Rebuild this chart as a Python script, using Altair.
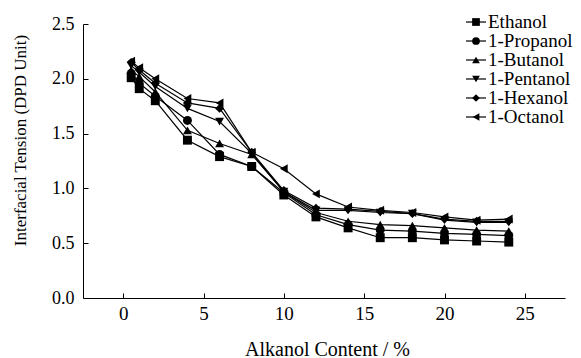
import altair as alt
import pandas as pd

# Alkanol content (%) at which interfacial tension was computed
content = [0.5, 1, 2, 4, 6, 8, 10, 12, 14, 16, 18, 20, 22, 24]

series_names = ["Ethanol", "1-Propanol", "1-Butanol", "1-Pentanol", "1-Hexanol", "1-Octanol"]

# Interfacial tension (DPD units) for each alkanol
ethanol = [2.01, 1.91, 1.80, 1.44, 1.29, 1.20, 0.94, 0.74, 0.64, 0.55, 0.55, 0.53, 0.52, 0.51]
propanol = [2.05, 1.96, 1.84, 1.62, 1.31, 1.20, 0.96, 0.76, 0.67, 0.62, 0.61, 0.59, 0.58, 0.57]
butanol = [2.08, 2.02, 1.88, 1.53, 1.41, 1.31, 0.97, 0.78, 0.70, 0.67, 0.66, 0.64, 0.62, 0.61]
pentanol = [2.12, 2.06, 1.93, 1.73, 1.61, 1.32, 0.97, 0.80, 0.80, 0.78, 0.77, 0.71, 0.69, 0.69]
hexanol = [2.15, 2.08, 1.96, 1.78, 1.73, 1.33, 0.98, 0.82, 0.81, 0.79, 0.77, 0.72, 0.70, 0.70]
octanol = [2.16, 2.10, 2.00, 1.82, 1.78, 1.33, 1.18, 0.95, 0.83, 0.80, 0.78, 0.74, 0.71, 0.72]

x_ticks = [0, 5, 10, 15, 20, 25]
y_ticks = [0.0, 0.5, 1.0, 1.5, 2.0, 2.5]

# Marker per series
marker_shapes = ["square", "circle", "triangle-up", "triangle-down", "diamond", "triangle-left"]

rows = []
for name, vals in zip(series_names, [ethanol, propanol, butanol, pentanol, hexanol, octanol]):
    for c, v in zip(content, vals):
        rows.append({"content": c, "tension": v, "alkanol": name})
df = pd.DataFrame(rows)
legend_df = pd.DataFrame({"alkanol": series_names})

FONT = "Liberation Serif, Times New Roman, serif"

x_scale = alt.Scale(domain=[-2.5, 27.5], nice=False, zero=False)
y_scale = alt.Scale(domain=[0, 2.5], nice=False, zero=True)
shape_scale = alt.Scale(domain=series_names, range=marker_shapes)

x_axis = alt.Axis(
    orient="bottom", values=x_ticks, ticks=False, grid=False,
    title="Alkanol Content / %", titleFont=FONT, titleFontSize=20, titleFontWeight="normal",
    titleColor="black", titleX=244, titleY=57, titleAlign="center", titleBaseline="alphabetic",
    labelFont=FONT, labelFontSize=19, labelColor="black", labelPadding=6,
    domainColor="black", domainWidth=1,
)
y_axis = alt.Axis(
    orient="left", values=y_ticks, format=".1f", ticks=False, grid=False,
    title="Interfacial Tension (DPD Unit)", titleFont=FONT, titleFontSize=17, titleFontWeight="normal",
    titleColor="black", titleX=-63, titleY=116, titleAngle=270, titleAlign="center", titleBaseline="middle",
    labelFont=FONT, labelFontSize=18, labelColor="black", labelPadding=9,
    domainColor="black", domainWidth=1,
)

# Inward-pointing tick marks drawn by a second pair of axes shifted into the plot
x_tick_axis = alt.Axis(orient="bottom", values=x_ticks, ticks=True, tickSize=5, offset=-5,
                       tickColor="black", tickWidth=1, labels=False, domain=False, grid=False, title=None)
y_tick_axis = alt.Axis(orient="left", values=y_ticks, ticks=True, tickSize=5, offset=-5,
                       tickColor="black", tickWidth=1, labels=False, domain=False, grid=False, title=None)

base = alt.Chart(df)

lines = base.mark_line(color="black", strokeWidth=1.2).encode(
    x=alt.X("content:Q", scale=x_scale, axis=x_axis),
    y=alt.Y("tension:Q", scale=y_scale, axis=y_axis),
    detail="alkanol:N",
)

points = base.mark_point(filled=True, color="black", opacity=1, size=80).encode(
    x=alt.X("content:Q", scale=x_scale, axis=None),
    y=alt.Y("tension:Q", scale=y_scale, axis=None),
    shape=alt.Shape("alkanol:N", scale=shape_scale, legend=None),
)

tick_layer = base.mark_point(opacity=0).encode(
    x=alt.X("content:Q", scale=x_scale, axis=x_tick_axis),
    y=alt.Y("tension:Q", scale=y_scale, axis=y_tick_axis),
)

plot = alt.layer(lines, points, tick_layer).resolve_axis(x="independent", y="independent")

# Legend in the upper right: one row per alkanol, line segment with its marker and label
leg_y = alt.Y("alkanol:N", scale=alt.Scale(type="point", domain=series_names, range=[-2, 93], padding=0), axis=None)
leg_base = alt.Chart(legend_df)

leg_lines = leg_base.mark_rule(color="black", strokeWidth=1.2).encode(
    x=alt.value(383), x2=alt.value(403), y=leg_y,
)
leg_marks = leg_base.mark_point(filled=True, color="black", opacity=1, size=60).encode(
    x=alt.value(393), y=leg_y,
    shape=alt.Shape("alkanol:N", scale=shape_scale, legend=None),
)
leg_text = leg_base.mark_text(align="left", baseline="middle", font=FONT, fontSize=19, color="black").encode(
    x=alt.value(405), y=leg_y, text="alkanol:N",
)
legend = alt.layer(leg_lines, leg_marks, leg_text)

chart = (
    alt.layer(plot, legend)
    .resolve_scale(y="independent")
    .properties(
        width=482, height=274,
        padding={"left": 83, "top": 24, "right": 16, "bottom": 60},
        autosize=alt.AutoSizeParams(type="none"),
        background="white",
    )
    .configure_view(stroke=None)
)

chart.save("out.html", embed_options={"renderer": "svg", "actions": False})
